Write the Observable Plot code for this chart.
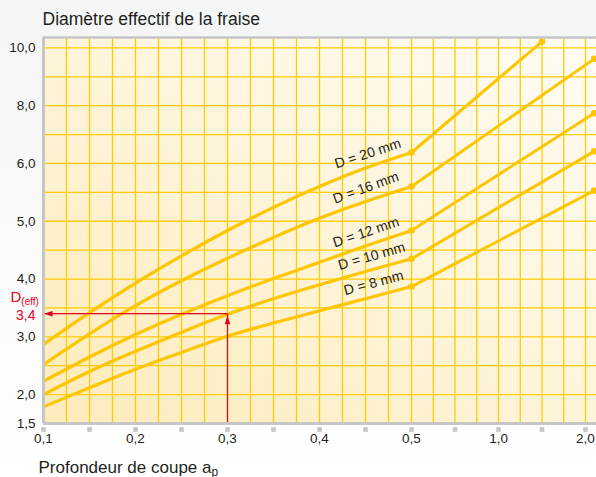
<!DOCTYPE html>
<html><head><meta charset="utf-8">
<script src="https://cdn.jsdelivr.net/npm/d3@7"></script>
<script src="https://cdn.jsdelivr.net/npm/@observablehq/plot@0.6"></script>
<style>
html,body{margin:0;padding:0;}
body{width:596px;height:477px;overflow:hidden;background:linear-gradient(#f4f5f5,#ffffff);}
#chart svg{display:block;}
</style></head><body><div id="chart"></div>
<script>
// ---- data ----
const titleText = "Diamètre effectif de la fraise";
const xAxisText = "Profondeur de coupe a";
const xAxisSub = "p";
const diameters = [20, 16, 12, 10, 8];
const xValues = [0.1, 0.15, 0.2, 0.25, 0.3, 0.35, 0.4, 0.45, 0.5];
const d20 = [2.87, 3.42, 3.93, 4.40, 4.84, 5.24, 5.60, 5.92, 6.38];
const d16 = [2.52, 3.05, 3.54, 3.97, 4.36, 4.72, 5.05, 5.34, 5.60];
const d12 = [2.23, 2.65, 3.04, 3.39, 3.71, 4.01, 4.29, 4.57, 4.84];
const d10 = [2.00, 2.40, 2.75, 3.08, 3.39, 3.66, 3.90, 4.13, 4.35];
const d8  = [1.79, 2.12, 2.44, 2.73, 3.01, 3.24, 3.45, 3.66, 3.87];
const endX = [1.5, 2.1, 2.1, 2.1, 2.1];
const endY = [10.22, 9.62, 7.74, 6.42, 5.53];
const labelX = [0.454, 0.452, 0.452, 0.458, 0.46];
const labelAngles = [-18, -20, -18.5, -16, -15];
const yTickValues = [1.5, 2, 3, 4, 5, 6, 8, 10];
const yTickLabels = ["1,5", "2,0", "3,0", "4,0", "5,0", "6,0", "8,0", "10,0"];
const xTickValues = [0.1, 0.2, 0.3, 0.4, 0.5, 1.0, 2.0];
const xTickLabels = ["0,1", "0,2", "0,3", "0,4", "0,5", "1,0", "2,0"];
const xTickMarks = [0.1, 0.15, 0.2, 0.25, 0.3, 0.35, 0.4, 0.45, 0.5, 0.75, 1.0, 1.5, 2.0];
const xGrid = [0.125, 0.15, 0.175, 0.2, 0.225, 0.25, 0.275, 0.3, 0.325, 0.35, 0.375, 0.4, 0.425, 0.45, 0.475, 0.5,
               0.625, 0.75, 0.875, 1.0, 1.25, 1.5, 1.75, 2.0];
const yGrid = [2, 2.5, 3, 3.5, 4, 4.5, 5, 5.5, 6, 7, 8, 9, 10];
const exampleAp = 0.3;
const exampleDeff = 3.4;
const exampleDeffLabel = "3,4";

// ---- non-uniform axes (piecewise scales) ----
const xBreaks = [0.1, 0.5, 1.0, 2.0];
const xBreakUnits = [0, 4, 4.946, 5.891];
const yBreaks = [1.5, 2, 3, 4, 5, 6, 8, 10];
const yBreakUnits = [-0.5, 0, 1, 2, 3, 4, 5, 6];
const xU = d3.scaleLinear().domain(xBreaks).range(xBreakUnits);
const yU = d3.scaleLinear().domain(yBreaks).range(yBreakUnits);

const series = [d20, d16, d12, d10, d8];
const last = xValues.length - 1;
const curves = diameters.flatMap((D, i) => xValues.map((x, j) => ({D, x, y: series[i][j]})));
const tails = diameters.flatMap((D, i) => [{D, x: 0.5, y: series[i][last]}, {D, x: endX[i], y: endY[i]}]);
const labels = diameters.map((D, i) => {
  const s = series[i];
  const a = xU(0.45), b = xU(0.5), t = (xU(labelX[i]) - a) / (b - a);
  const yu = yU(s[last - 1]) + t * (yU(s[last]) - yU(s[last - 1]));
  return {D, xu: xU(labelX[i]), yu, angle: labelAngles[i], text: `D = ${D} mm`};
});

const YELLOW = "#ffcc00", CURVE = "#fdc600", GREY = "#c6c6c6", RED = "#e2001a", INK = "#231f20";
const FONT = "'Liberation Sans', Arial, Helvetica, sans-serif";

const arrowHead = {draw(ctx) { ctx.moveTo(0, 0); ctx.lineTo(-2.8, 8.5); ctx.lineTo(2.8, 8.5); ctx.closePath(); }};

const yTop = 6.18, xRight = 553 / 92;

const svg = Plot.plot({
  width: 596, height: 477,
  marginLeft: 43, marginRight: 0, marginTop: 37, marginBottom: 54,
  x: {type: "linear", domain: [0, xRight], axis: null},
  y: {type: "linear", domain: [-0.5, yTop], axis: null},
  style: {fontFamily: FONT, background: "transparent", overflow: "visible"},
  marks: [
    Plot.frame({fill: "url(#bg)", stroke: "none"}),
    Plot.ruleX(xGrid, {x: d => xU(d), stroke: YELLOW, strokeWidth: 1.3}),
    Plot.ruleY(yGrid, {y: d => yU(d), stroke: YELLOW, strokeWidth: 1.3}),
    Plot.line(curves, {x: d => xU(d.x), y: d => yU(d.y), z: "D", curve: "natural", stroke: CURVE, strokeWidth: 3.2}),
    Plot.line(tails, {x: d => xU(d.x), y: d => yU(d.y), z: "D", stroke: CURVE, strokeWidth: 3}),
    Plot.dot(tails, {x: d => xU(d.x), y: d => yU(d.y), r: 3.3, fill: CURVE}),
    Plot.ruleX([exampleAp], {x: d => xU(d), y1: yU(1.5), y2: yU(exampleDeff), stroke: RED, strokeWidth: 1.2}),
    Plot.ruleY([exampleDeff], {y: d => yU(d), x1: xU(0.1), x2: xU(exampleAp), stroke: RED, strokeWidth: 1.2}),
    // frame borders
    Plot.ruleY([yTop], {y: d => d, stroke: GREY, strokeWidth: 2.5}),
    Plot.ruleX([0.1], {x: d => xU(d), stroke: GREY, strokeWidth: 3}),
    Plot.ruleY([1.5], {y: d => yU(d), stroke: GREY, strokeWidth: 3}),
    Plot.dot(xTickMarks, {x: d => xU(d), frameAnchor: "bottom", dy: 6, symbol: "square", r: 2.6, fill: GREY}),
    // arrow heads
    Plot.dot([exampleDeff], {x: () => xU(0.1), y: d => yU(d), symbol: arrowHead, rotate: -90, dx: 0.5, fill: RED, stroke: "none"}),
    Plot.dot([exampleDeff], {x: () => xU(exampleAp), y: d => yU(d), symbol: arrowHead, dy: 2, fill: RED, stroke: "none"}),
    // tick labels
    Plot.text(xTickValues, {x: d => xU(d), text: (d, i) => xTickLabels[i], frameAnchor: "bottom", dy: 15, lineAnchor: "middle", fontSize: 13.5, fill: INK}),
    Plot.text(yTickValues, {y: d => yU(d), text: (d, i) => yTickLabels[i], frameAnchor: "left", dx: -8, textAnchor: "end", lineAnchor: "middle", fontSize: 13.5, fill: INK}),
    Plot.text([exampleDeff], {y: d => yU(d), text: () => exampleDeffLabel, frameAnchor: "left", dx: -8, dy: 2, textAnchor: "end", lineAnchor: "middle", fontSize: 14, fill: RED}),
    Plot.text([exampleDeff], {y: d => yU(d), text: () => "D", frameAnchor: "left", dx: -33, dy: -12, textAnchor: "start", lineAnchor: "bottom", fontSize: 15, fill: RED}),
    // curve labels
    Plot.text(labels, {x: "xu", y: "yu", text: "text", rotate: "angle", dy: -9, lineAnchor: "bottom", textAnchor: "middle", fontSize: 14, fill: INK}),
    // title and axis label
    Plot.text([titleText], {frameAnchor: "top-left", dx: -1, dy: -13, textAnchor: "start", lineAnchor: "bottom", fontSize: 17.5, fill: INK}),
    Plot.text([xAxisText], {frameAnchor: "bottom-left", dx: -5, dy: 49, textAnchor: "start", lineAnchor: "bottom", fontSize: 17, fill: INK})
  ]
});

const root = d3.select(svg);
const defs = root.insert("defs", ":first-child");
const grad = defs.append("linearGradient").attr("id", "bg").attr("x1", 0).attr("y1", 1).attr("x2", 1).attr("y2", 0);
grad.append("stop").attr("offset", 0).attr("stop-color", "#fdebbb");
grad.append("stop").attr("offset", 0.55).attr("stop-color", "#fef5dc");
grad.append("stop").attr("offset", 1).attr("stop-color", "#fffcf4");
root.selectAll("text").each(function() {
  if (this.textContent === xAxisText) d3.select(this).append("tspan").attr("font-size", 12).attr("dy", 3).text(xAxisSub);
  else if (this.textContent === "D") d3.select(this).append("tspan").attr("font-size", 10).attr("dy", 3).text("(eff)");
});
document.getElementById("chart").appendChild(svg);
</script>
</body></html>
